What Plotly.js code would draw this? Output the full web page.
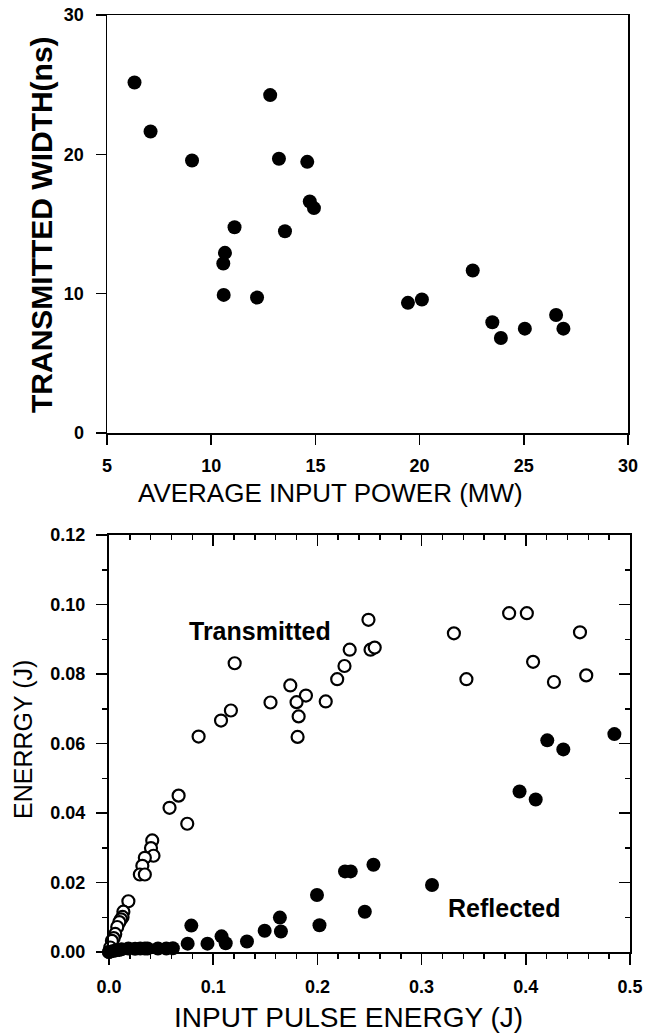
<!DOCTYPE html>
<html>
<head>
<meta charset="utf-8">
<script src="https://cdn.plot.ly/plotly-3.0.1.min.js"></script>
<style>
html,body{margin:0;padding:0;background:#fff;}
#chart{width:645px;height:1034px;}
</style>
</head>
<body>
<div id="chart"></div>
<script>
// ---- Top panel: transmitted pulse width vs average input power ----
var powerMW = [6.32, 7.09, 9.08, 12.83, 13.25, 14.61, 14.73, 14.93, 11.12, 13.54, 10.66, 10.58, 10.60, 12.20, 19.44, 20.11, 22.55, 23.49, 23.90, 25.05, 26.55, 26.90];
var widthNs = [25.16, 21.64, 19.56, 24.25, 19.68, 19.46, 16.61, 16.14, 14.77, 14.48, 12.93, 12.16, 9.91, 9.72, 9.34, 9.58, 11.66, 7.95, 6.82, 7.49, 8.47, 7.49];

// ---- Bottom panel: transmitted / reflected energy vs input pulse energy ----
var inputT = [0.249, 0.331, 0.384, 0.401, 0.452, 0.407, 0.343, 0.427, 0.458, 0.1206, 0.231, 0.251, 0.255, 0.226, 0.219, 0.174, 0.189, 0.208, 0.180, 0.155, 0.117, 0.1075, 0.182, 0.181, 0.086, 0.0668, 0.0581, 0.0751, 0.0415, 0.0403, 0.0427, 0.0344, 0.032, 0.0296, 0.0344, 0.0186, 0.0138, 0.013, 0.0115, 0.0099, 0.0079, 0.006, 0.0045, 0.0028, 0.0012, 0.0];
var transmitted = [0.0956, 0.0917, 0.0975, 0.0975, 0.0920, 0.0835, 0.0785, 0.0777, 0.0796, 0.0831, 0.0870, 0.0870, 0.0876, 0.0823, 0.0785, 0.0767, 0.0738, 0.0721, 0.0719, 0.0718, 0.0695, 0.0666, 0.0678, 0.0619, 0.0620, 0.0450, 0.0415, 0.0369, 0.0321, 0.0299, 0.0277, 0.0271, 0.0248, 0.0223, 0.0223, 0.0146, 0.0116, 0.0101, 0.0094, 0.0086, 0.0072, 0.0052, 0.0040, 0.0032, 0.0013, 0.0];
var inputR = [0.485, 0.4206, 0.436, 0.394, 0.4095, 0.2538, 0.2265, 0.232, 0.310, 0.1996, 0.2455, 0.202, 0.164, 0.165, 0.1494, 0.1324, 0.108, 0.112, 0.0945, 0.079, 0.0755, 0.0613, 0.055, 0.047, 0.037, 0.0344, 0.030, 0.025, 0.0186, 0.012, 0.010, 0.007, 0.004, 0.0];
var reflected = [0.0627, 0.0609, 0.0583, 0.0462, 0.0439, 0.0251, 0.0232, 0.0232, 0.0193, 0.0164, 0.0116, 0.0077, 0.0099, 0.0059, 0.0061, 0.0030, 0.0045, 0.0025, 0.0024, 0.0076, 0.0024, 0.0011, 0.0010, 0.0010, 0.0010, 0.0010, 0.0010, 0.0009, 0.0010, 0.0008, 0.0006, 0.0005, 0.0003, 0.0];

var xTopTicks = [5, 10, 15, 20, 25, 30];
var yTopTicks = [0, 10, 20, 30];

var FONT = 'Liberation Sans, Arial, Helvetica, sans-serif';

var traces = [
  {x: powerMW, y: widthNs, type: 'scatter', mode: 'markers', xaxis: 'x', yaxis: 'y',
   marker: {color: '#000', size: 14}, cliponaxis: false, name: 'width'},
  {x: inputT, y: transmitted, type: 'scatter', mode: 'markers', xaxis: 'x2', yaxis: 'y2',
   marker: {color: '#fff', size: 12, symbol: 'circle', line: {color: '#000', width: 2.2}}, cliponaxis: false, name: 'Transmitted'},
  {x: inputR, y: reflected, type: 'scatter', mode: 'markers', xaxis: 'x2', yaxis: 'y2',
   marker: {color: '#000', size: 14}, cliponaxis: false, name: 'Reflected'},
  // empty trace so the mirrored (inside-tick) top/right axes of the lower panel are drawn
  {x: [], y: [], type: 'scatter', mode: 'markers', xaxis: 'x3', yaxis: 'y3', hoverinfo: 'skip', showlegend: false}
];

var tickFont = {family: FONT, size: 18, color: '#000', weight: 'bold'};

var layout = {
  width: 645, height: 1034,
  margin: {l: 0, r: 0, t: 0, b: 0, pad: 0},
  paper_bgcolor: '#fff', plot_bgcolor: 'rgba(0,0,0,0)',
  showlegend: false,
  font: {family: FONT, color: '#000'},
  xaxis: {
    domain: [107/645, 628/645], anchor: 'y', range: [5, 30],
    tickmode: 'array', tickvals: xTopTicks, ticktext: xTopTicks.map(String),
    ticks: 'outside', ticklen: 10, tickwidth: 1.5, tickcolor: '#000',
    showline: true, linecolor: '#000', linewidth: 1.5, mirror: true,
    showgrid: false, zeroline: false, tickfont: tickFont, ticklabelstandoff: 6
  },
  yaxis: {
    domain: [1 - 433/1034, 1 - 15/1034], anchor: 'x', range: [0, 30],
    tickmode: 'array', tickvals: yTopTicks, ticktext: yTopTicks.map(String),
    ticks: 'outside', ticklen: 10, tickwidth: 1.5, tickcolor: '#000',
    showline: true, linecolor: '#000', linewidth: 1.5, mirror: true,
    showgrid: false, zeroline: false, tickfont: tickFont, ticklabelstandoff: 8
  },
  xaxis2: {
    domain: [109/645, 630/645], anchor: 'y2', range: [0, 0.5],
    dtick: 0.1, tick0: 0, tickformat: '.1f',
    ticks: 'outside', ticklen: 11, tickwidth: 1.5, tickcolor: '#000',
    minor: {ticks: 'outside', dtick: 0.02, ticklen: 5, tickwidth: 1.5, tickcolor: '#000', showgrid: false},
    showline: true, linecolor: '#000', linewidth: 2,
    showgrid: false, zeroline: false, tickfont: tickFont, ticklabelstandoff: 6
  },
  yaxis2: {
    domain: [1 - 952/1034, 1 - 535/1034], anchor: 'x2', range: [0, 0.12],
    dtick: 0.02, tick0: 0, tickformat: '.2f',
    ticks: 'outside', ticklen: 11, tickwidth: 1.5, tickcolor: '#000',
    minor: {ticks: 'outside', dtick: 0.01, ticklen: 5, tickwidth: 1.5, tickcolor: '#000', showgrid: false},
    showline: true, linecolor: '#000', linewidth: 2,
    showgrid: false, zeroline: false, tickfont: tickFont, ticklabelstandoff: 7
  },
  xaxis3: {
    overlaying: 'x2', side: 'top', anchor: 'y2', range: [0, 0.5],
    dtick: 0.1, tick0: 0, showticklabels: false,
    ticks: 'inside', ticklen: 11, tickwidth: 1.5, tickcolor: '#000',
    minor: {ticks: 'inside', dtick: 0.02, ticklen: 5, tickwidth: 1.5, tickcolor: '#000', showgrid: false},
    showline: true, linecolor: '#000', linewidth: 2,
    showgrid: false, zeroline: false
  },
  yaxis3: {
    overlaying: 'y2', side: 'right', anchor: 'x2', range: [0, 0.12],
    dtick: 0.02, tick0: 0, showticklabels: false,
    ticks: 'inside', ticklen: 11, tickwidth: 1.5, tickcolor: '#000',
    minor: {ticks: 'inside', dtick: 0.01, ticklen: 5, tickwidth: 1.5, tickcolor: '#000', showgrid: false},
    showline: true, linecolor: '#000', linewidth: 2,
    showgrid: false, zeroline: false
  },
  annotations: [
    {text: 'AVERAGE INPUT POWER (MW)', xref: 'paper', yref: 'paper', x: 330/645, y: 1 - 493/1034,
     xanchor: 'center', yanchor: 'middle', showarrow: false, font: {family: FONT, size: 26, color: '#000'}},
    {text: 'TRANSMITTED WIDTH(ns)', xref: 'paper', yref: 'paper', x: 41/645, y: 1 - 225/1034, textangle: -90,
     xanchor: 'center', yanchor: 'middle', showarrow: false, font: {family: FONT, size: 30, color: '#000', weight: 'bold'}},
    {text: 'INPUT PULSE ENERGY (J)', xref: 'paper', yref: 'paper', x: 348/645, y: 1 - 1017/1034,
     xanchor: 'center', yanchor: 'middle', showarrow: false, font: {family: FONT, size: 28, color: '#000'}},
    {text: 'ENERRGY (J)', xref: 'paper', yref: 'paper', x: 23/645, y: 1 - 740/1034, textangle: -90,
     xanchor: 'center', yanchor: 'middle', showarrow: false, font: {family: FONT, size: 25, color: '#000'}},
    {text: 'Transmitted', xref: 'x2', yref: 'y2', x: 0.145, y: 0.0924,
     xanchor: 'center', yanchor: 'middle', showarrow: false, font: {family: FONT, size: 25, color: '#000', weight: 'bold'}},
    {text: 'Reflected', xref: 'x2', yref: 'y2', x: 0.380, y: 0.0127,
     xanchor: 'center', yanchor: 'middle', showarrow: false, font: {family: FONT, size: 25, color: '#000', weight: 'bold'}}
  ]
};

Plotly.newPlot('chart', traces, layout, {staticPlot: true, displayModeBar: false});
</script>
</body>
</html>
